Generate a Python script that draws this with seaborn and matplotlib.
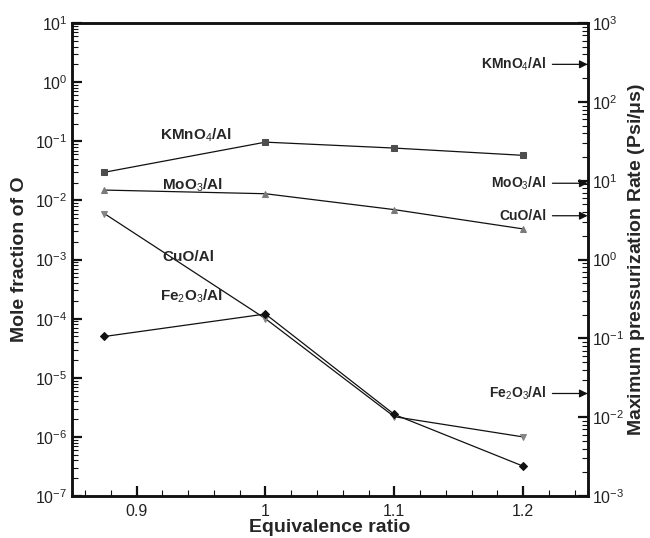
import matplotlib
matplotlib.use("Agg")
import matplotlib.pyplot as plt
import matplotlib.ticker as mticker
import seaborn as sns
import pandas as pd

# data
phi = [0.875, 1.0, 1.1, 1.2]
kmno4 = [0.03, 0.097, 0.077, 0.058]
moo3 = [0.015, 0.013, 0.007, 0.0033]
cuo = [0.006, 1.0e-4, 2.2e-6, 1.0e-6]
fe2o3 = [5.0e-5, 1.2e-4, 2.4e-6, 3.2e-7]

series = ["KMnO4", "MoO3", "CuO", "Fe2O3"]
labels = [r"KMnO$_4$/Al", r"MoO$_3$/Al", "CuO/Al", r"Fe$_2$O$_3$/Al"]
label_pos = [(0.918, 0.125), (0.92, 0.0185), (0.92, 0.0011), (0.918, 2.4e-4)]
# maximum pressurization rate (right axis) for each mixture
rate = [300, 9.3, 3.6, 0.02]

left_ticks = [10.0 ** e for e in range(-7, 2)]
right_ticks = [10.0 ** e for e in range(-3, 4)]

df = pd.DataFrame({
    "phi": phi * 4,
    "x_O": kmno4 + moo3 + cuo + fe2o3,
    "mix": [s for s in series for _ in phi],
})

sns.set_style("ticks")
plt.rcParams["font.family"] = ["Liberation Sans", "DejaVu Sans"]
plt.rcParams["mathtext.fontset"] = "custom"
plt.rcParams["mathtext.rm"] = "Liberation Sans"
plt.rcParams["mathtext.bf"] = "Liberation Sans:bold"
plt.rcParams["axes.unicode_minus"] = False

fig = plt.figure(figsize=(6.5, 5.38), dpi=100)
ax = fig.add_axes([0.111, 0.078, 0.793, 0.879])

markers = {"KMnO4": "s", "MoO3": "^", "CuO": "v", "Fe2O3": "D"}
mcolors = {"KMnO4": "#4d4d4d", "MoO3": "#7a7a7a", "CuO": "#858585", "Fe2O3": "#111111"}
msize = {"KMnO4": 4.5, "MoO3": 5, "CuO": 5, "Fe2O3": 4}
for s in series:
    d = df[df["mix"] == s]
    sns.lineplot(data=d, x="phi", y="x_O", ax=ax, color="#111111", lw=0.9,
                 marker=markers[s], markersize=msize[s], markerfacecolor=mcolors[s],
                 markeredgecolor=mcolors[s], legend=False)

ax.set_yscale("log")
ax.set_xlim(0.85, 1.25)
ax.set_ylim(1e-7, 10)
ax.set_xticks([0.9, 1.0, 1.1, 1.2])
ax.set_xticklabels(["0.9", "1", "1.1", "1.2"])
ax.xaxis.set_minor_locator(mticker.MultipleLocator(0.02))
ax.yaxis.set_major_locator(mticker.FixedLocator(left_ticks))
ax.yaxis.set_major_formatter(mticker.LogFormatterSciNotation())
ax.yaxis.set_minor_locator(mticker.LogLocator(base=10, subs=range(2, 10), numticks=20))
ax.yaxis.set_minor_formatter(mticker.NullFormatter())

for t, (lx, ly) in zip(labels, label_pos):
    ax.text(lx, ly, t, fontsize=11, fontweight="bold", ha="left", va="center")

ax.set_xlabel("Equivalence ratio", fontsize=14, fontweight="bold", labelpad=0)
ax.set_ylabel("Mole fraction of O", fontsize=14, fontweight="bold", labelpad=5)

ax2 = ax.twinx()
ax2.set_yscale("log")
ax2.set_ylim(1e-3, 1e3)
ax2.yaxis.set_major_locator(mticker.FixedLocator(right_ticks))
ax2.yaxis.set_major_formatter(mticker.LogFormatterSciNotation())
ax2.yaxis.set_minor_locator(mticker.LogLocator(base=10, subs=range(2, 10), numticks=20))
ax2.yaxis.set_minor_formatter(mticker.NullFormatter())
ax2.set_ylabel(r"Maximum pressurization Rate (Psi/$\mathbf{\mu}$s)", fontsize=14,
               fontweight="bold", labelpad=1)

for t, r in zip(labels, rate):
    ax2.annotate(t, xy=(1.25, r), xytext=(1.218, r), fontsize=10, fontweight="bold",
                 ha="right", va="center",
                 arrowprops=dict(arrowstyle="-|>", color="#111111", lw=0.9,
                                 mutation_scale=12, shrinkA=2, shrinkB=0))

for a in (ax, ax2):
    for sp in a.spines.values():
        sp.set_linewidth(1.8)
        sp.set_color("#111111")
ax.tick_params(axis="both", which="major", direction="in", length=7, width=1.6,
               labelsize=11.5, colors="#111111", labelcolor="#222222")
ax.tick_params(axis="both", which="minor", direction="in", length=4, width=0.8,
               colors="#111111")
ax.tick_params(axis="x", pad=6)
ax2.tick_params(axis="y", which="major", direction="in", length=7, width=1.6,
                labelsize=11.5, colors="#111111", labelcolor="#222222")
ax2.tick_params(axis="y", which="minor", direction="in", length=4, width=0.8,
                colors="#111111")

fig.savefig("out.png", dpi=100)
